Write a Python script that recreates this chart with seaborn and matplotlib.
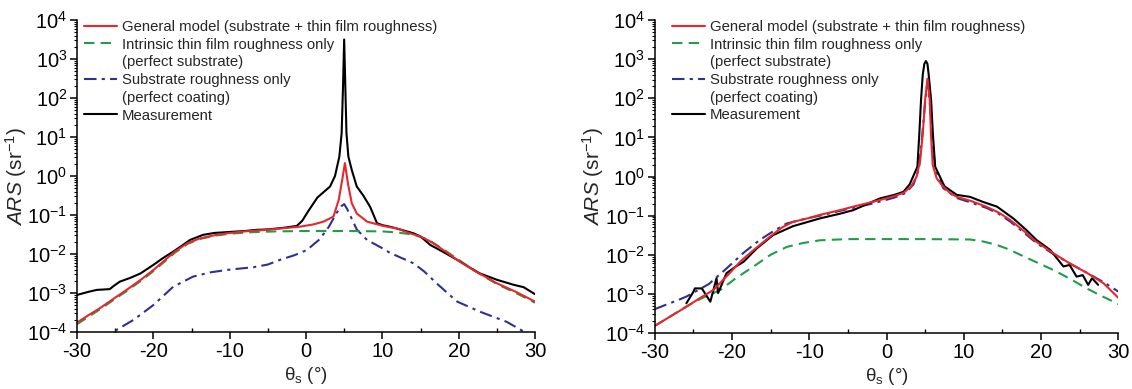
import numpy as np
import pandas as pd
import matplotlib
matplotlib.use("Agg")
import matplotlib.pyplot as plt
from matplotlib.lines import Line2D
from matplotlib.ticker import LogLocator, MultipleLocator, LogFormatterSciNotation
import seaborn as sns

# ---------------- data (log10 of ARS in sr^-1) ----------------
# Left panel
L_meas_theta = [-30, -28.5, -27.4, -26.5, -25.7, -25.2, -24.4, -23, -21.7, -20, -18.7, -17.4, -16.2,
                -15.2, -13.5, -12, -10.4, -8, -6.5, -5, -3, -1.2, -0.5, 0.3, 1.5, 3.15, 3.8, 4.37,
                4.67, 4.85, 5.0, 5.15, 5.3, 5.55, 6.0, 6.65, 7.5, 8.4, 9.3, 10, 11, 12.5, 14.1, 15,
                16.3, 18, 19.8, 21.3, 22.8, 25, 27.2, 28.5, 30]
L_meas_log = [-3.05, -2.97, -2.92, -2.91, -2.9, -2.82, -2.71, -2.61, -2.5, -2.28, -2.1, -1.94, -1.78,
              -1.64, -1.51, -1.46, -1.44, -1.41, -1.38, -1.37, -1.33, -1.28, -1.15, -0.9, -0.55, -0.27,
              0.0, 0.5, 1.1, 2.3, 3.5, 2.3, 1.1, 0.5, 0.15, -0.27, -0.5, -0.79, -1.21, -1.26, -1.3,
              -1.38, -1.47, -1.55, -1.77, -1.95, -2.15, -2.33, -2.5, -2.66, -2.79, -2.85, -3.03]

L_model_theta = [-30, -28.5, -27, -25, -23.5, -21.5, -20, -18.5, -17.2, -15.5, -13.9, -12, -10.4, -8,
                 -5.2, -3, -0.8, 1, 2.3, 3.6, 4.3, 4.7, 5.1, 5.5, 6.0, 6.65, 8, 10.1, 12, 13.6, 15,
                 16.3, 18, 19.8, 22, 25, 27.5, 30]
L_model_log = [-3.76, -3.57, -3.39, -3.12, -2.92, -2.64, -2.41, -2.16, -1.94, -1.72, -1.6, -1.52, -1.47,
               -1.42, -1.38, -1.34, -1.3, -1.24, -1.17, -1.04, -0.6, -0.15, 0.33, -0.2, -0.7, -0.96,
               -1.17, -1.28, -1.35, -1.47, -1.55, -1.68, -1.9, -2.15, -2.42, -2.75, -2.97, -3.22]

L_film_theta = [-30, -27, -25, -23.5, -21.5, -20, -18.5, -17.2, -15.5, -14, -12, -10, -7, -4, 0, 5,
                10, 12, 14, 16, 18, 20, 22, 25, 27.5, 30]
L_film_log = [-3.8, -3.42, -3.15, -2.95, -2.67, -2.44, -2.19, -1.97, -1.74, -1.62, -1.53, -1.48, -1.44,
              -1.42, -1.41, -1.41, -1.42, -1.45, -1.5, -1.63, -1.88, -2.15, -2.42, -2.77, -3.0, -3.25]

L_sub_theta = [-30, -27, -25.2, -22.6, -20, -17.4, -14.8, -12.5, -10.4, -8.5, -6.9, -5, -3.4, -1.5, 0.1,
               1.8, 3.0, 4.0, 4.6, 5.0, 5.4, 6.0, 6.65, 8, 9.7, 11, 14.1, 15.5, 17.1, 19.8, 22.8, 26.3,
               28.9, 30]
L_sub_log = [-4.5, -4.12, -3.99, -3.69, -3.31, -2.84, -2.58, -2.47, -2.41, -2.37, -2.34, -2.27, -2.15,
             -2.03, -1.9, -1.62, -1.3, -0.95, -0.78, -0.72, -0.85, -1.1, -1.37, -1.64, -1.82, -1.97,
             -2.24, -2.45, -2.75, -3.22, -3.48, -3.74, -4.03, -4.15]

# Right panel
R_meas_theta = [-25.9, -25, -24.8, -23.9, -22.8, -22, -21.8, -20.7, -19.5, -18.5, -16.8, -14.7, -12.1,
                -10, -8.6, -6, -4.3, -2, -0.84, 1, 2.2, 3.0, 4.0, 4.25, 4.47, 4.69, 4.9, 5.1, 5.3,
                5.46, 5.77, 6.0, 6.3, 7.5, 9.1, 10.8, 12.5, 14.3, 16.4, 18, 19.4, 21.2, 22.9, 23.7,
                24.6, 25.4, 26.1, 26.6, 27.4]
R_meas_log = [-3.24, -2.95, -2.86, -2.86, -3.2, -2.6, -2.98, -2.47, -2.3, -2.18, -1.84, -1.5, -1.27,
              -1.15, -1.07, -0.95, -0.86, -0.66, -0.56, -0.47, -0.39, -0.2, 0.25, 1.1, 1.96, 2.6, 2.88,
              2.95, 2.88, 2.6, 1.96, 1.1, 0.25, -0.25, -0.47, -0.52, -0.65, -0.77, -1.07, -1.35,
              -1.62, -1.88, -2.3, -2.26, -2.56, -2.52, -2.77, -2.6, -2.77]

R_model_theta = [-30, -28, -25.9, -24, -22.4, -20.3, -18.8, -17.2, -15.1, -13.5, -12.1, -10, -8.6, -6,
                 -4.3, -2, -0.84, 1, 2.2, 3.2, 3.9, 4.35, 4.7, 5.0, 5.3, 5.6, 5.75, 5.98, 6.5, 7.35,
                 8.2, 9.1, 11, 12.9, 14.5, 16, 17.7, 19.4, 21.5, 23.7, 26, 28.1, 30]
R_model_log = [-3.82, -3.58, -3.33, -3.09, -2.9, -2.47, -2.15, -1.88, -1.54, -1.3, -1.16, -1.06, -0.98,
               -0.86, -0.77, -0.66, -0.6, -0.5, -0.42, -0.25, 0.0, 0.4, 1.1, 1.96, 2.5, 1.96, 1.1,
               0.3, -0.05, -0.26, -0.42, -0.52, -0.63, -0.77, -0.92, -1.11, -1.38, -1.67, -1.95,
               -2.22, -2.47, -2.73, -3.1]

R_film_theta = [-30, -28, -25.9, -24, -21.5, -19.5, -17.2, -15, -12.9, -10.8, -8.6, -5, 0, 5, 10.8,
                12.5, 14.3, 15.8, 17.3, 19.5, 21.6, 23.8, 25.9, 28, 30]
R_film_log = [-3.82, -3.58, -3.32, -3.12, -2.9, -2.6, -2.3, -2.0, -1.8, -1.7, -1.63, -1.6, -1.6, -1.6,
              -1.61, -1.66, -1.75, -1.86, -2.0, -2.2, -2.39, -2.62, -2.86, -3.07, -3.26]

R_sub_theta = [-30, -27, -25.9, -23, -20.7, -18.5, -16.4, -14.5, -12.9, -10.5, -8.6, -5, -2, -0.84, 1,
               2.5, 3.5, 4.2, 4.6, 5.0, 5.3, 5.6, 5.9, 6.3, 7.35, 9.1, 11, 12.9, 14.5, 16, 17.7, 19.4,
               21.5, 23.7, 26, 28.1, 30]
R_sub_log = [-3.39, -3.16, -3.07, -2.75, -2.35, -1.95, -1.62, -1.38, -1.2, -1.08, -1.0, -0.83, -0.7,
             -0.64, -0.54, -0.42, -0.2, 0.2, 1.0, 1.9, 2.4, 1.9, 1.0, 0.2, -0.3, -0.55, -0.67, -0.8,
             -0.95, -1.15, -1.42, -1.7, -1.97, -2.22, -2.47, -2.7, -2.94]

series_labels = ["General model (substrate + thin film roughness)",
                 "Intrinsic thin film roughness only",
                 "(perfect substrate)",
                 "Substrate roughness only",
                 "(perfect coating)",
                 "Measurement"]
x_ticks = [-30, -20, -10, 0, 10, 20, 30]

# ---------------- styling ----------------
sns.set_theme(style="ticks")
plt.rcParams["font.family"] = ["Liberation Sans", "DejaVu Sans"]
plt.rcParams["mathtext.fontset"] = "custom"
plt.rcParams["mathtext.rm"] = "Liberation Sans"
plt.rcParams["mathtext.it"] = "Liberation Sans:italic"
plt.rcParams["mathtext.default"] = "regular"
plt.rcParams["axes.unicode_minus"] = False

RED = "#e8262d"
GREEN = "#1f9e4a"
BLUE = "#2e3192"
BLACK = "#000000"
LW = 1.5

fig = plt.figure(figsize=(11.32, 3.89), dpi=100)
W, H = 1132, 389
ax1 = fig.add_axes([77 / W, 1 - 332 / H, (535 - 77) / W, (332 - 20) / H])
ax2 = fig.add_axes([654.7 / W, 1 - 333 / H, (1118.3 - 654.7) / W, (333 - 20) / H])


def draw(ax, meas, model, film, sub, legend_x):
    df = lambda t, v: pd.DataFrame({"theta": t, "ars": 10.0 ** np.asarray(v)})
    sns.lineplot(data=df(*sub), x="theta", y="ars", ax=ax, color=BLUE, lw=LW,
                 linestyle=(0, (6, 2.5, 1.5, 2.5)))
    sns.lineplot(data=df(*film), x="theta", y="ars", ax=ax, color=GREEN, lw=LW,
                 linestyle=(0, (5, 3)))
    sns.lineplot(data=df(*meas), x="theta", y="ars", ax=ax, color=BLACK, lw=LW)
    sns.lineplot(data=df(*model), x="theta", y="ars", ax=ax, color=RED, lw=LW)
    ax.set_yscale("log")
    ax.set_xlim(-30, 30)
    ax.set_ylim(1e-4, 1e4)
    ax.set_xticks(x_ticks)
    ax.xaxis.set_minor_locator(MultipleLocator(5))
    ax.yaxis.set_major_locator(LogLocator(base=10, numticks=20))
    ax.yaxis.set_minor_locator(LogLocator(base=10, subs=np.arange(2, 10), numticks=20))
    ax.yaxis.set_major_formatter(LogFormatterSciNotation())
    ax.tick_params(axis="both", which="major", direction="out", length=5, width=1.1,
                   labelsize=14.5, pad=2, color="black", labelcolor="black")
    ax.tick_params(axis="y", which="minor", direction="out", length=2.5, width=0.8, color="black")
    ax.tick_params(axis="x", which="minor", direction="in", length=3, width=1.0, color="black")
    for s in ["top", "right"]:
        ax.spines[s].set_visible(False)
    for s in ["left", "bottom"]:
        ax.spines[s].set_linewidth(1.1)
        ax.spines[s].set_color("black")
    ax.set_xlabel(r"$\theta_s$ (°)", fontsize=13.5, labelpad=3)
    ax.set_ylabel(r"$\mathit{ARS}$ (sr$^{-1}$)", fontsize=15)
    ax.yaxis.set_label_coords(-0.105, 0.5)

    blank = Line2D([], [], color="none")
    handles = [Line2D([], [], color=RED, lw=LW),
               Line2D([], [], color=GREEN, lw=LW, linestyle=(0, (5, 3))),
               blank,
               Line2D([], [], color=BLUE, lw=LW, linestyle=(0, (6, 2.5, 1.5, 2.5))),
               blank,
               Line2D([], [], color=BLACK, lw=LW)]
    ax.legend(handles, series_labels, loc="upper left", bbox_to_anchor=(legend_x, 1.005),
              frameon=False, fontsize=10.7, handlelength=2.2, handletextpad=0.35,
              labelspacing=0.25, borderpad=0.1, borderaxespad=0.0)


draw(ax1, (L_meas_theta, L_meas_log), (L_model_theta, L_model_log),
     (L_film_theta, L_film_log), (L_sub_theta, L_sub_log), 0.012)
draw(ax2, (R_meas_theta, R_meas_log), (R_model_theta, R_model_log),
     (R_film_theta, R_film_log), (R_sub_theta, R_sub_log), 0.034)

fig.savefig("out.png", dpi=100)
